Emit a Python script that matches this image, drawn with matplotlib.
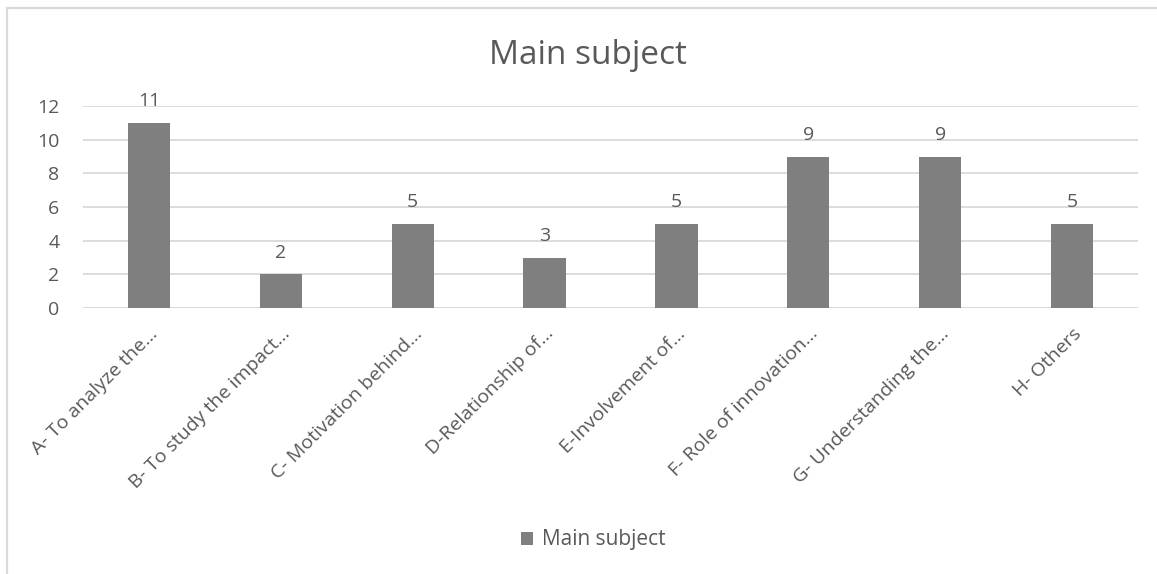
import matplotlib.pyplot as plt
from matplotlib.patches import Rectangle

# survey answers per main subject
categories = ['A- To analyze the…', 'B- To study the impact…', 'C- Motivation behind…',
              'D-Relationship of…', 'E-Involvement of…', 'F- Role of innovation…',
              'G- Understanding the…', 'H- Others']
counts = [11, 2, 5, 3, 5, 9, 9, 5]
yticks = [0, 2, 4, 6, 8, 10, 12]

bar_color = '#7f7f7f'
text_color = '#595959'
grid_color = '#d9d9d9'

plt.rcParams['font.family'] = ['Open Sans', 'DejaVu Sans']

W, H = 1157, 574
fig = plt.figure(figsize=(W / 100, H / 100), dpi=100)

# light chart frame (runs off the right and bottom edge)
fig.patches.append(Rectangle((7 / W, -0.1), 2, (H - 8) / H + 0.1, transform=fig.transFigure,
                             fill=False, edgecolor=grid_color, linewidth=1.6))

ax = fig.add_axes([83 / W, 1 - 308 / H, (1138 - 83) / W, (308 - 106) / H])
x = list(range(len(categories)))
bars = ax.bar(x, counts, width=0.32, color=bar_color, label='Main subject', zorder=3)

ax.set_xlim(-0.5, len(categories) - 0.5)
ax.set_ylim(0, 12)
ax.set_yticks(yticks)
ax.yaxis.grid(True, color=grid_color, linewidth=1.3, zorder=0)
for s in ax.spines.values():
    s.set_visible(False)
ax.axhline(0, color=grid_color, linewidth=1.3, zorder=1)
ax.tick_params(axis='both', length=0, colors=text_color, labelsize=14)
ax.tick_params(axis='y', pad=17)
ax.set_xticks(x)
ax.set_xticklabels(categories, rotation=45, ha='right', rotation_mode='anchor')
ax.tick_params(axis='x', pad=12)

ax.bar_label(bars, labels=[str(v) for v in counts], padding=9, color=text_color, fontsize=14)

fig.text(588 / W, 1 - 64 / H, 'Main subject', ha='center', va='baseline', fontsize=24, color=text_color)

leg = fig.legend(handles=[bars], labels=['Main subject'], loc='center', bbox_to_anchor=(593 / W, 1 - 540 / H),
                 frameon=False, fontsize=15, handlelength=0.6, handleheight=0.6, handletextpad=0.4)
for t in leg.get_texts():
    t.set_color(text_color)

fig.savefig('out.png', dpi=100)
